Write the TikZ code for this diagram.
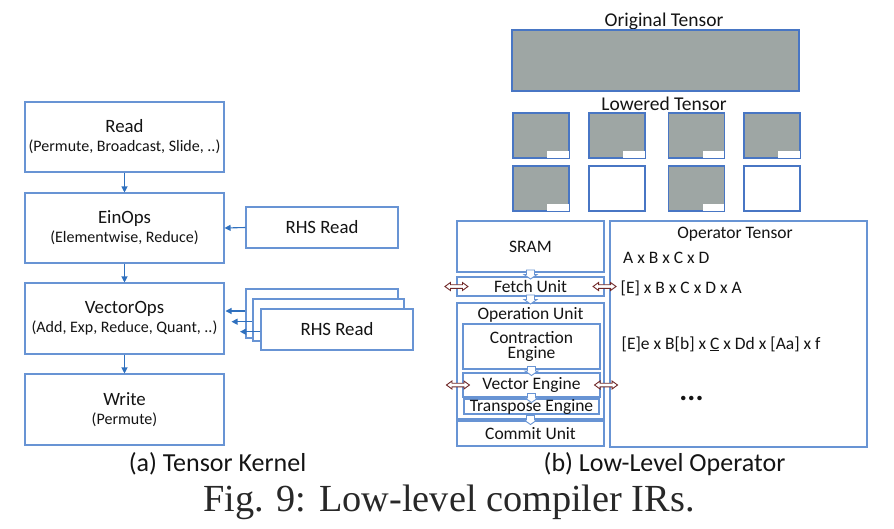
\documentclass[tikz,border=0pt]{standalone}
\usepackage{fontspec}
\setmainfont{Carlito}
\newfontfamily\capfont{Liberation Serif}
\usetikzlibrary{calc,arrows.meta}
\definecolor{boxblue}{RGB}{104,148,212}
\definecolor{tileblue}{RGB}{72,118,196}
\definecolor{arrblue}{RGB}{47,112,190}
\definecolor{tgray}{RGB}{158,166,164}
\definecolor{dbrown}{RGB}{112,40,40}
\definecolor{txt}{RGB}{20,20,20}
\tikzset{
  box/.style={draw=boxblue, line width=1.1pt, fill=white, inner sep=0pt, text=txt},
  tile/.style={draw=tileblue, line width=1.1pt, inner sep=0pt, minimum width=56pt, minimum height=45pt},
  graytile/.style={tile, fill=tgray},
  whitetile/.style={tile, fill=white},
  flow/.style={draw=arrblue, line width=1.1pt, -{Triangle[length=6pt,width=6pt]}},
  lbl/.style={inner sep=0pt, text=txt},
  big/.style={font=\fontsize{18.8}{20}\selectfont},
  mid/.style={font=\fontsize{17.5}{15.5}\selectfont},
  blockdown/.pic={\draw[draw=boxblue, fill=white, line width=0.9pt]
     (-4,-4.5) -- (4,-4.5) -- (4,0) -- (6.5,0) -- (0,4.5) -- (-6.5,0) -- (-4,0) -- cycle;},
  dblarrow/.pic={\draw[draw=dbrown, fill=white, line width=0.9pt]
     (-11.5,0) -- (-6,-4) -- (-6,-1.8) -- (6,-1.8) -- (6,-4) -- (11.5,0) -- (6,4) -- (6,1.8) -- (-6,1.8) -- (-6,4) -- cycle;}
}
\newcommand{\sub}{\fontsize{16}{20}\selectfont}
\begin{document}
\begin{tikzpicture}[x=1pt,y=-1pt]
\useasboundingbox (0,0) rectangle (894,528);

% ---------------- (a) Tensor Kernel ----------------
\node[box, minimum width=199pt, minimum height=70pt, align=center, big] (read) at (124.5,137)
  {Read\\[-1pt]{\sub (Permute, Broadcast, Slide, ..)}};
\node[box, minimum width=199pt, minimum height=70pt, align=center, big] (ein) at (124.5,228)
  {EinOps\\[-1pt]{\sub (Elementwise, Reduce)}};
\node[box, minimum width=199pt, minimum height=71pt, align=center, big] (vec) at (124.5,318.5)
  {VectorOps\\[-1pt]{\sub (Add, Exp, Reduce, Quant, ..)}};
\node[box, minimum width=199pt, minimum height=71pt, align=center, big] (write) at (124.5,409.5)
  {Write\\[-1pt]{\sub (Permute)}};
\node[box, minimum width=152pt, minimum height=41pt, big] (rhs1) at (322,227.5) {RHS Read};

\node[box, minimum width=152pt, minimum height=49pt] (rhsA) at (322,313.5) {};
\node[box, minimum width=151pt, minimum height=42pt] (rhsB) at (328.5,320) {};
\node[box, minimum width=152pt, minimum height=41pt, big] (rhsC) at (337,329.5) {RHS Read};

\coordinate (a1) at (225.5,311);
\coordinate (a2) at (231.5,321.7);
\coordinate (a3) at (240,331.7);

\draw[flow] (read.south) -- (ein.north);
\draw[flow] (ein.south) -- (vec.north);
\draw[flow] (vec.south) -- (write.north);
\draw[flow] (rhs1.west) -- (ein.east);
\draw[flow] (rhsA.west |- a1) -- (a1);
\draw[flow] (rhsB.west |- a2) -- (a2);
\draw[flow] (rhsC.west |- a3) -- (a3);

\node[lbl, anchor=base, font=\fontsize{26}{28}\selectfont] (capa) at (217.5,471.5) {(a) Tensor Kernel};

% ---------------- (b) Low-Level Operator ----------------
\node[lbl, font=\fontsize{19.5}{20}\selectfont] (origlbl) at (664,21) {Original Tensor};
\node[draw=tileblue, line width=1.1pt, fill=tgray, inner sep=0pt, minimum width=287pt, minimum height=61pt] (orig) at (655.5,60.5) {};
\node[lbl, font=\fontsize{19.5}{20}\selectfont] (lowlbl) at (664,104) {Lowered Tensor};

\node[graytile] (t1) at (541,135.5) {};
\node[graytile] (t2) at (617,135.5) {};
\node[graytile] (t3) at (696.5,135.5) {};
\node[graytile] (t4) at (772,135.5) {};
\node[graytile] (t5) at (541,188.5) {};
\node[whitetile] (t6) at (617,188.5) {};
\node[graytile] (t7) at (696.5,188.5) {};
\node[whitetile] (t8) at (772,188.5) {};
\foreach \t in {t1,t2,t3,t4,t5,t7}{
  \fill[white] ($(\t.south east)+(-22.5,-8)$) rectangle ($(\t.south east)+(-1,-1)$);
}

\node[box, minimum width=147pt, minimum height=51pt, mid] (sram) at (530.5,246.5) {SRAM};
\node[box, minimum width=147pt, minimum height=19pt, mid] (fetch) at (530.5,286.5) {Fetch Unit};
\node[box, minimum width=147pt, minimum height=116pt] (opu) at (530.5,361) {};
\node[lbl, mid] (oplbl) at (530.5,314.5) {Operation Unit};
\node[box, minimum width=137pt, minimum height=45pt, mid, align=center] (contr) at (531.5,346.5) {Contraction\\Engine};
\node[box, minimum width=137pt, minimum height=24pt, mid] (veng) at (531.5,385) {Vector Engine};
\node[box, minimum width=135pt, minimum height=15pt, mid] (teng) at (531.5,406.5) {Transpose Engine};
\node[box, minimum width=147pt, minimum height=25pt, mid] (commit) at (530.5,433.5) {Commit Unit};

\node[box, minimum width=257pt, minimum height=226pt] (optens) at (738.5,334) {};
\node[lbl, mid] (optlbl) at (735,234) {Operator Tensor};
\node[lbl, mid, anchor=west] (e1) at (623,257.5) {A x B x C x D};
\node[lbl, mid, anchor=west] (e2) at (620.5,288) {[E] x B x C x D x A};
\node[lbl, mid, anchor=west] (e3) at (621.5,344) {[E]e x B[b] x \underline{C} x Dd x [Aa] x f};
\node[lbl, font=\fontsize{30}{30}\selectfont\bfseries] (e4) at (691.5,398) {...};

\pic at ($(sram.south)!0.5!(fetch.north)$) {blockdown};
\pic at ($(fetch.south)!0.5!(opu.north)$) {blockdown};
\pic at ($(contr.south)!0.5!(veng.north)$) {blockdown};
\pic at ($(veng.south)!0.5!(teng.north)$) {blockdown};
\pic at ($(opu.south)!0.5!(commit.north)$) {blockdown};

\pic at (fetch.west) {dblarrow};
\pic at (fetch.east) {dblarrow};
\pic at ($(opu.west |- veng.center)+(1.5,0)$) {dblarrow};
\pic at ($(opu.east |- veng.center)+(1.5,0)$) {dblarrow};

\node[lbl, anchor=base, font=\fontsize{26}{28}\selectfont] (capb) at (664.5,471.5) {(b) Low-Level Operator};

% ---------------- figure caption ----------------
\node[lbl, anchor=base, font=\capfont\fontsize{38.3}{40}\selectfont, text={rgb,255:red,40;green,40;blue,40}] (fig) at (449,511.5) {Fig. 9: Low-level compiler IRs.};
\end{tikzpicture}
\end{document}
